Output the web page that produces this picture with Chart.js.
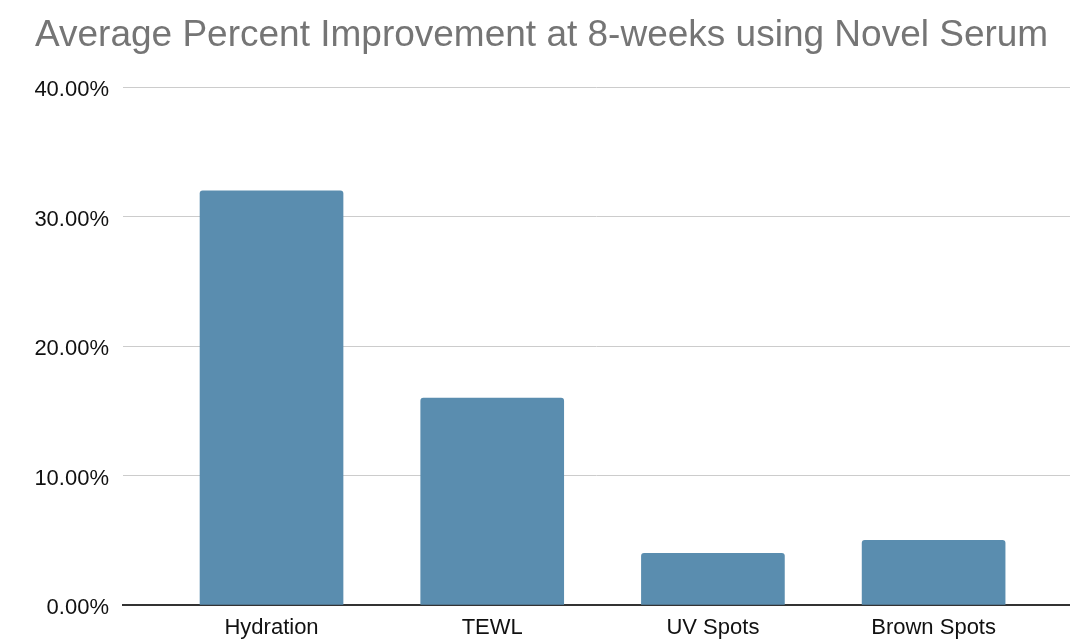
<!DOCTYPE html>
<html>
<head>
<meta charset="utf-8">
<script src="https://cdn.jsdelivr.net/npm/chart.js@4"></script>
<style>
  html, body { margin: 0; padding: 0; background: #fff; }
  #wrap { width: 1070px; height: 641px; }
</style>
</head>
<body>
<div id="wrap"><canvas id="myChart"></canvas></div>
<script>
const titel = 'Average Percent Improvement at 8-weeks using Novel Serum';
const categorieen = ['Hydration', 'TEWL', 'UV Spots', 'Brown Spots'];
const verbetering = [0.32, 0.16, 0.04, 0.05];
const yTicks = [0, 0.1, 0.2, 0.3, 0.4];

const fnt = 'Liberation Sans, Arial, Helvetica, sans-serif';

const ctx = document.getElementById('myChart');

new Chart(ctx, {
  type: 'bar',
  data: {
    datasets: [
      {
        data: verbetering.map((v, i) => ({ x: i, y: v })),
        backgroundColor: '#5A8DAF',
        borderWidth: 0,
        barThickness: 143,
        borderRadius: { topLeft: 3, topRight: 3, bottomLeft: 0, bottomRight: 0 },
        borderSkipped: 'start',
      },
    ],
  },
  options: {
    responsive: true,
    maintainAspectRatio: false,
    animation: false,
    layout: { padding: { left: 35, right: 0, top: 0, bottom: 0 } },
    plugins: {
      legend: { display: false },
      tooltip: { enabled: false },
      title: {
        display: true,
        text: titel,
        align: 'start',
        color: '#757575',
        font: { family: fnt, size: 37, weight: 'normal' },
        padding: { top: 14, bottom: 29 },
      },
    },
    scales: {
      x: {
        type: 'linear',
        offset: false,
        min: -0.673,
        max: 3.618,
        grid: { display: false, drawTicks: false, offset: false },
        border: { display: true, color: '#333333', width: 2 },
        afterBuildTicks: (axis) => {
          axis.ticks = categorieen.map((c, i) => ({ value: i }));
        },
        afterFit: (axis) => {
          axis.height = 36;
        },
        ticks: {
          color: '#111',
          font: { family: fnt, size: 22 },
          padding: 10,
          maxRotation: 0,
          callback: (v) => categorieen[v],
        },
      },
      y: {
        min: 0,
        max: 0.4,
        afterBuildTicks: (axis) => {
          axis.ticks = yTicks.map((v) => ({ value: v }));
        },
        afterFit: (axis) => {
          axis.width = 88;
        },
        grid: { color: '#cccccc', lineWidth: 1, drawTicks: false },
        border: { display: false },
        ticks: {
          color: '#111',
          font: { family: fnt, size: 22 },
          padding: 14,
          labelOffset: 3,
          callback: (v) => (v * 100).toFixed(2) + '%',
        },
      },
    },
  },
});
</script>
</body>
</html>
